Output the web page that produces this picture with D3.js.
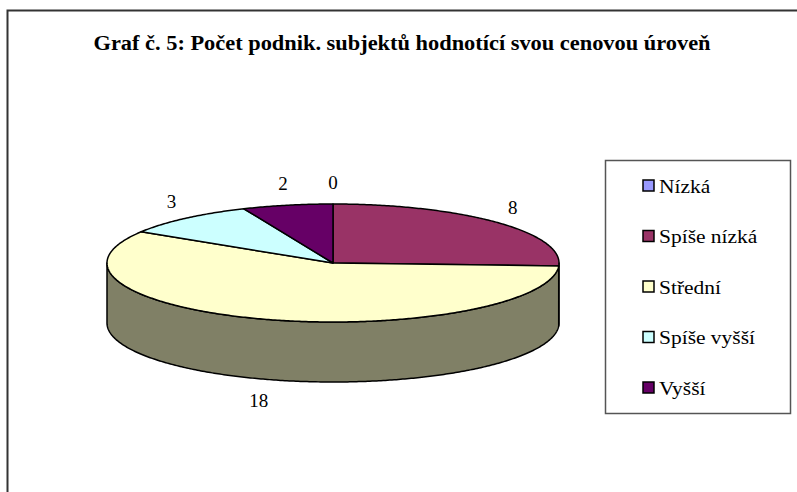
<!DOCTYPE html>
<html><head><meta charset="utf-8">
<script src="https://cdn.jsdelivr.net/npm/d3@7"></script>
<style>html,body{margin:0;padding:0;background:#fff;}svg{display:block;}</style>
</head><body>
<svg id="c" width="797" height="492"></svg>
<script>
const title = "Graf č. 5: Počet podnik. subjektů hodnotící svou cenovou úroveň";
const categories = ["Nízká", "Spíše nízká", "Střední", "Spíše vyšší", "Vyšší"];
const values = [0, 8, 18, 3, 2];
const colors = ["#9999FF", "#993366", "#FFFFCC", "#CCFFFF", "#660066"];

const svg = d3.select("#c");
const font = "'Liberation Serif','Times New Roman',Times,serif";

// outer frame (cropped on right and bottom)
svg.append("path").attr("d", "M7.5,500 L7.5,10.5 L800,10.5")
  .attr("fill", "none").attr("stroke", "#333").attr("stroke-width", 2);

svg.append("g").attr("transform", "translate(402,50) scale(1.12,1)")
  .append("text").attr("x", 0).attr("y", 0).attr("text-anchor", "middle")
  .attr("font-family", font).attr("font-weight", "bold").attr("font-size", 20)
  .text(title);

const cx = 333, cy = 263, rx = 226, ry = 59, depth = 60;
const data = categories.map((c, i) => ({cat: c, value: values[i], color: colors[i]}));
const arcs = d3.pie().sort(null).value(d => d.value).startAngle(0).endAngle(2 * Math.PI)(data);

const px = a => cx + rx * Math.sin(a);
const py = a => cy - ry * Math.cos(a);
function arcPts(a0, a1, dy) {
  const n = Math.max(2, Math.ceil(Math.abs(a1 - a0) / 0.01));
  const pts = [];
  for (let i = 0; i <= n; i++) { const a = a0 + (a1 - a0) * i / n; pts.push([px(a), py(a) + dy]); }
  return pts;
}
const line = d3.line();
const darker = c => { const r = d3.rgb(c); return d3.rgb(r.r * 0.5, r.g * 0.5, r.b * 0.5).toString(); };

const g = svg.append("g");
// sides (front half: angles between PI/2 and 3PI/2)
arcs.filter(d => d.value > 0).forEach(d => {
  const a0 = Math.max(d.startAngle, Math.PI / 2), a1 = Math.min(d.endAngle, 3 * Math.PI / 2);
  if (a1 <= a0) return;
  const pts = arcPts(a0, a1, 0).concat(arcPts(a1, a0, depth));
  g.append("path").attr("d", line(pts) + "Z").attr("fill", darker(d.data.color))
    .attr("stroke", "#000").attr("stroke-width", 1.5).attr("stroke-linejoin", "round");
});
// tops
arcs.filter(d => d.value > 0).forEach(d => {
  const pts = [[cx, cy]].concat(arcPts(d.startAngle, d.endAngle, 0));
  g.append("path").attr("d", line(pts) + "Z").attr("fill", d.data.color)
    .attr("stroke", "#000").attr("stroke-width", 1.5).attr("stroke-linejoin", "round");
});
// data labels
const ldx = 22, ldy = 22;
arcs.forEach(d => {
  const m = (d.startAngle + d.endAngle) / 2;
  const x = cx + (rx + ldx) * Math.sin(m);
  let y = cy - (ry + ldy) * Math.cos(m);
  if (Math.cos(m) < 0) y += depth;
  svg.append("text").attr("x", x).attr("y", y).attr("dy", "0.35em").attr("text-anchor", "middle")
    .attr("font-family", font).attr("font-size", 19).text(d.data.value);
});

// legend
const lg = svg.append("g");
lg.append("rect").attr("x", 605.5).attr("y", 160.5).attr("width", 185).attr("height", 253)
  .attr("fill", "#fff").attr("stroke", "#555").attr("stroke-width", 1.5);
const ly = d3.scalePoint().domain(categories).range([186, 388]);
categories.forEach((c, i) => {
  lg.append("rect").attr("x", 643).attr("y", ly(c) - 6).attr("width", 11).attr("height", 11)
    .attr("fill", colors[i]).attr("stroke", "#000").attr("stroke-width", 1.5);
  lg.append("g").attr("transform", `translate(659,${ly(c)}) scale(1.13,1)`)
    .append("text").attr("x", 0).attr("y", 0).attr("dy", "0.35em")
    .attr("font-family", font).attr("font-size", 19).text(c);
});
</script>
</body></html>
